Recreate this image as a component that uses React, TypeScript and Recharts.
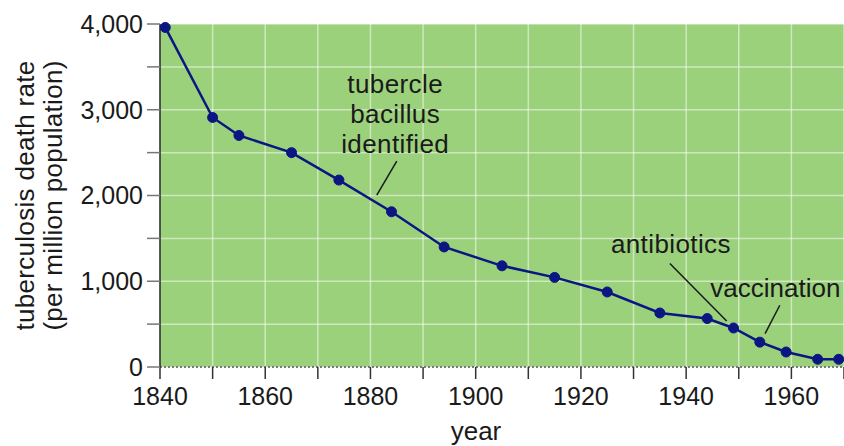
import {
  LineChart, Line, XAxis, YAxis, CartesianGrid, ReferenceLine, ReferenceDot,
} from 'recharts'

const years = [1841, 1850, 1855, 1865, 1874, 1884, 1894, 1905, 1915, 1925, 1935, 1944, 1949, 1954, 1959, 1965, 1969]
const deathRate = [3960, 2910, 2700, 2500, 2180, 1810, 1400, 1180, 1045, 875, 630, 565, 455, 290, 175, 90, 90]

const xTicks = [1840, 1850, 1860, 1870, 1880, 1890, 1900, 1910, 1920, 1930, 1940, 1950, 1960, 1970]
const yTicks = [0, 500, 1000, 1500, 2000, 2500, 3000, 3500, 4000]

// annotation text anchors (data coords) and leader lines
const noteLines = [['tubercle', 'bacillus', 'identified'], ['antibiotics'], ['vaccination']]
const noteYear = [1884.7, 1937.1, 1944.6]
const noteValue = [3195, 1327, 814]
const noteAnchor = ['middle', 'middle', 'start']
const noteSpacing = [0.4, 0.4, 0]
const leaderFrom = [{ x: 1885.0, y: 2400 }, { x: 1936.9, y: 1207 }, { x: 1957.8, y: 720 }]
const leaderTo = [{ x: 1881.2, y: 2004 }, { x: 1947.7, y: 537 }, { x: 1955.0, y: 390 }]

const data = years.map((year, i) => ({ year, rate: deathRate[i] }))

const FONT = '"Liberation Sans", Arial, Helvetica, sans-serif'
const GREEN = '#9bd17b'
const NAVY = '#0b1683'

const noteLabel = (lines: string[], anchor: string, spacing: number) => (props: any) => {
  const { x, y, width, height } = props.viewBox
  return (
    <text
      x={x + width / 2}
      y={y + height / 2}
      textAnchor={anchor}
      fontSize={26}
      fontFamily={FONT}
      letterSpacing={spacing}
      fill="#1a1a1a"
    >
      {lines.map((t, i) => (
        <tspan key={t} x={x + width / 2} dy={i === 0 ? 0 : 30}>{t}</tspan>
      ))}
    </text>
  )
}

const YLabel = (props: any) => {
  const { y, height } = props.viewBox
  const cy = y + height / 2
  return (
    <g fontSize={26} fontFamily={FONT} fill="#1a1a1a" textAnchor="middle" letterSpacing={0.3}>
      <text transform={`translate(34, ${cy}) rotate(-90)`}>tuberculosis death rate</text>
      <text transform={`translate(62, ${cy}) rotate(-90)`}>(per million population)</text>
    </g>
  )
}

export default function App() {
  return (
    <div style={{ position: 'absolute', left: 0, top: 0, fontFamily: FONT }}>
      <LineChart width={844} height={446} data={data} margin={{ top: 24, right: 0, left: 0, bottom: 0 }}>
        <CartesianGrid
          fill={GREEN}
          stroke="#ffffff"
          strokeOpacity={0.5}
          strokeWidth={1.5}
          horizontalValues={yTicks}
          verticalValues={xTicks}
        />
        <XAxis
          dataKey="year"
          type="number"
          domain={[1840, 1970]}
          ticks={xTicks}
          allowDataOverflow
          height={79}
          tickSize={12}
          tickMargin={8}
          tickFormatter={(v: number) => (v % 20 === 0 && v < 1970 ? String(v) : '')}
          tick={{ fill: '#1a1a1a', fontSize: 25, fontFamily: FONT }}
          tickLine={{ stroke: '#333', strokeWidth: 1.5 }}
          axisLine={{ stroke: '#555', strokeWidth: 1.5, strokeDasharray: '2 2' }}
          label={{ value: 'year', position: 'insideBottom', offset: 6, dx: -26, fontSize: 26, fill: '#1a1a1a', fontFamily: FONT }}
        />
        <YAxis
          type="number"
          domain={[0, 4000]}
          ticks={yTicks}
          width={160}
          tickSize={13}
          tickMargin={4}
          tickFormatter={(v: number) => (v % 1000 === 0 ? v.toLocaleString('en-US') : '')}
          tick={{ fill: '#1a1a1a', fontSize: 25, fontFamily: FONT }}
          tickLine={{ stroke: '#777', strokeWidth: 1.5 }}
          axisLine={{ stroke: '#222', strokeWidth: 1.5 }}
          label={{ content: YLabel }}
        />
        {leaderFrom.map((p, i) => (
          <ReferenceLine
            key={'leader' + i}
            segment={[p, leaderTo[i]]}
            stroke="#1a1a1a"
            strokeWidth={1.5}
          />
        ))}
        {noteLines.map((lines, i) => (
          <ReferenceDot
            key={'note' + i}
            x={noteYear[i]}
            y={noteValue[i]}
            r={0}
            fill="none"
            stroke="none"
            label={{ content: noteLabel(lines, noteAnchor[i], noteSpacing[i]) }}
          />
        ))}
        <Line
          type="linear"
          dataKey="rate"
          stroke={NAVY}
          strokeWidth={2.5}
          dot={{ r: 5, fill: NAVY, stroke: NAVY, strokeWidth: 1 }}
          isAnimationActive={false}
        />
      </LineChart>
    </div>
  )
}
